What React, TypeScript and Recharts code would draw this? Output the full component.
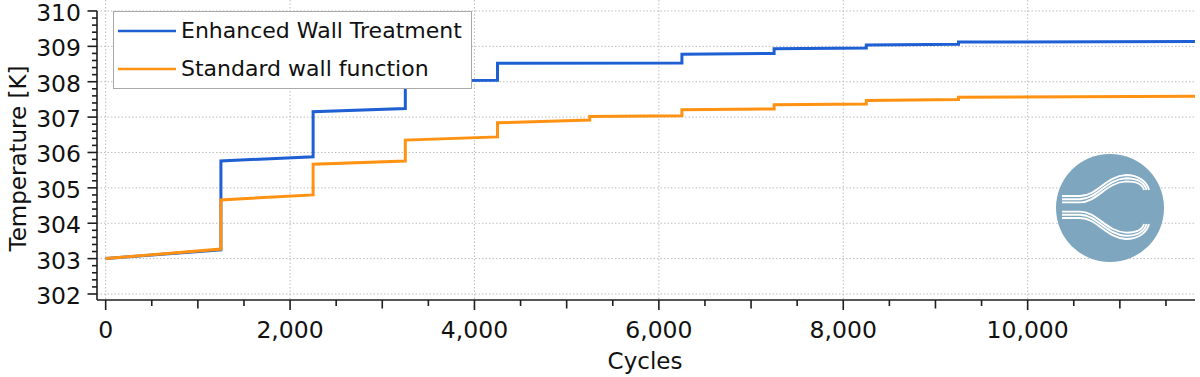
import React from 'react';
import { LineChart, Line, XAxis, YAxis, CartesianGrid, Legend, ReferenceLine } from 'recharts';

// ---- data ----
const enhancedCycles = [0, 1250, 1250, 2250, 2250, 3250, 3250, 4250, 4250, 6250, 6250, 7250, 7250, 8250, 8250, 9250, 9250, 11815];
const enhancedTemp = [303.0, 303.25, 305.76, 305.88, 307.15, 307.24, 308.03, 308.04, 308.52, 308.53, 308.78, 308.8, 308.93, 308.95, 309.04, 309.06, 309.12, 309.14];

const standardCycles = [0, 1250, 1250, 2250, 2250, 3250, 3250, 4250, 4250, 5250, 5250, 6250, 6250, 7250, 7250, 8250, 8250, 9250, 9250, 11815];
const standardTemp = [303.0, 303.27, 304.66, 304.8, 305.67, 305.76, 306.35, 306.44, 306.84, 306.92, 307.02, 307.04, 307.21, 307.23, 307.35, 307.37, 307.47, 307.5, 307.56, 307.59];

const seriesNames = ['Enhanced Wall Treatment', 'Standard wall function'];
const seriesColors = ['#1f5fd4', '#ff9212'];

const xMajorTicks = [0, 2000, 4000, 6000, 8000, 10000];
const xMinorTicks = [500, 1000, 1500, 2500, 3000, 3500, 4500, 5000, 5500, 6500, 7000, 7500, 8500, 9000, 9500, 10500, 11000, 11500];
const yMajorTicks = [302, 303, 304, 305, 306, 307, 308, 309, 310];
const yMinorSteps = [0.2, 0.4, 0.6, 0.8];

const xDomain = [-94, 11815];
const yDomain = [301.83, 310.31];

const enhancedData = enhancedCycles.map((c, i) => ({ cycles: c, temp: enhancedTemp[i] }));
const standardData = standardCycles.map((c, i) => ({ cycles: c, temp: standardTemp[i] }));

const xTicks = [...xMajorTicks, ...xMinorTicks].sort((a, b) => a - b);
const yTicks: number[] = [];
yMajorTicks.forEach((t, i) => {
  yTicks.push(t);
  if (i < yMajorTicks.length - 1) yMinorSteps.forEach((s) => yTicks.push(Math.round((t + s) * 10) / 10));
});

const FONT = "'DejaVu Sans', Verdana, sans-serif";
const AXIS_COLOR = '#1e1e1e';

const XTick = (props: any) => {
  const { x, y, payload } = props;
  const v = payload.value;
  const len = v % 2000 === 0 ? 10 : v % 1000 === 0 ? 8.5 : 6;
  return (
    <g>
      <line x1={x} x2={x} y1={y} y2={y + len} stroke={AXIS_COLOR} strokeWidth={1.6} />
      {v % 2000 === 0 && (
        <text x={x} y={y + 38} textAnchor="middle" fontFamily={FONT} fontSize={23.5} fill="#111">
          {v.toLocaleString('en-US')}
        </text>
      )}
    </g>
  );
};

const YTick = (props: any) => {
  const { x, y, payload } = props;
  const v = payload.value;
  const major = Math.abs(v - Math.round(v)) < 1e-6;
  const len = major ? 9.5 : 5;
  return (
    <g>
      <line x1={x - len} x2={x} y1={y} y2={y} stroke={AXIS_COLOR} strokeWidth={1.6} />
      {major && (
        <text x={x - 16} y={y + 10} textAnchor="end" fontFamily={FONT} fontSize={23.5} fill="#111">
          {Math.round(v)}
        </text>
      )}
    </g>
  );
};

const YTitle = () => (
  <text
    x={26}
    y={158.5}
    transform="rotate(-90, 26, 158.5)"
    textAnchor="middle"
    fontFamily={FONT}
    fontSize={23}
    fill="#111"
  >
    Temperature [K]
  </text>
);

const XTitle = () => (
  <text x={645} y={369} textAnchor="middle" fontFamily={FONT} fontSize={23} fill="#111">
    Cycles
  </text>
);

const renderLegend = () => (
  <div
    style={{
      position: 'relative',
      width: 359,
      height: 78,
      border: '1px solid #a9a9a9',
      background: '#ffffff',
      boxSizing: 'border-box',
      fontFamily: FONT,
      fontSize: 22,
      color: '#111',
    }}
  >
    {seriesNames.map((name, i) => (
      <div key={name} style={{ position: 'absolute', left: 4, top: 19 + i * 38 - 14, height: 28, display: 'flex', alignItems: 'center', whiteSpace: 'nowrap' }}>
        <svg width={58} height={4} style={{ display: 'block' }}>
          <line x1={0} x2={58} y1={2} y2={2} stroke={seriesColors[i]} strokeWidth={2.5} />
        </svg>
        <span style={{ marginLeft: 5, lineHeight: '28px' }}>{name}</span>
      </div>
    ))}
  </div>
);

const wavePath = (k: number, mirror: boolean) => {
  const m = (y: number) => (mirror ? 414 - y : y);
  const s = 3.2 * k;
  return `M 1062 ${m(196 + s)} L 1080 ${m(196 + s)} C 1097 ${m(196 + s)}, 1106 ${m(176 + s)}, 1126 ${m(175 + s)} C 1139 ${m(175 + s)}, ${1147 - 2 * k} ${m(182 + s * 0.6)}, ${1149 - 2.5 * k} ${m(190)}`;
};

const Logo = () => (
  <svg width={1200} height={377} style={{ position: 'absolute', left: 0, top: 0, pointerEvents: 'none' }}>
    <circle cx={1110} cy={208} r={54} fill="#7fa6bf" />
    {[0, 1, 2].map((k) => (
      <path key={'t' + k} d={wavePath(k, false)} fill="none" stroke="#ffffff" strokeWidth={1.9} />
    ))}
    {[0, 1, 2].map((k) => (
      <path key={'b' + k} d={wavePath(k, true)} fill="none" stroke="#ffffff" strokeWidth={1.9} />
    ))}
  </svg>
);

export default function App() {
  return (
    <div style={{ position: 'absolute', left: 0, top: 0, width: 1200, height: 377, background: '#ffffff' }}>
      <LineChart width={1200} height={377} margin={{ top: 0, right: 5, bottom: 0, left: 0 }}>
        <CartesianGrid
          stroke="#bdbdbd"
          strokeDasharray="1.5 2"
          horizontalValues={yMajorTicks}
          verticalValues={xMajorTicks}
        />
        <XAxis
          type="number"
          dataKey="cycles"
          domain={xDomain}
          allowDataOverflow
          ticks={xTicks}
          interval={0}
          tick={<XTick />}
          tickLine={false}
          tickSize={0}
          tickMargin={0}
          height={77}
          axisLine={{ stroke: AXIS_COLOR, strokeWidth: 1.6 }}
          label={<XTitle />}
        />
        <YAxis
          type="number"
          dataKey="temp"
          domain={yDomain}
          allowDataOverflow
          ticks={yTicks}
          interval={0}
          tick={<YTick />}
          tickLine={false}
          tickSize={0}
          tickMargin={0}
          width={97}
          axisLine={false}
          label={<YTitle />}
        />
        <ReferenceLine
          ifOverflow="visible"
          segment={[
            { x: xDomain[0], y: yDomain[0] },
            { x: xDomain[0], y: 310 },
          ]}
          stroke={AXIS_COLOR}
          strokeWidth={1.6}
        />
        <Line
          data={enhancedData}
          dataKey="temp"
          name={seriesNames[0]}
          type="linear"
          stroke={seriesColors[0]}
          strokeWidth={3}
          dot={false}
          activeDot={false}
          isAnimationActive={false}
        />
        <Line
          data={standardData}
          dataKey="temp"
          name={seriesNames[1]}
          type="linear"
          stroke={seriesColors[1]}
          strokeWidth={3}
          dot={false}
          activeDot={false}
          isAnimationActive={false}
        />
        <Legend
          layout="vertical"
          align="center"
          verticalAlign="middle"
          content={renderLegend}
          wrapperStyle={{ left: 113, top: 11, width: 359, height: 78 }}
        />
      </LineChart>
      <Logo />
    </div>
  );
}
